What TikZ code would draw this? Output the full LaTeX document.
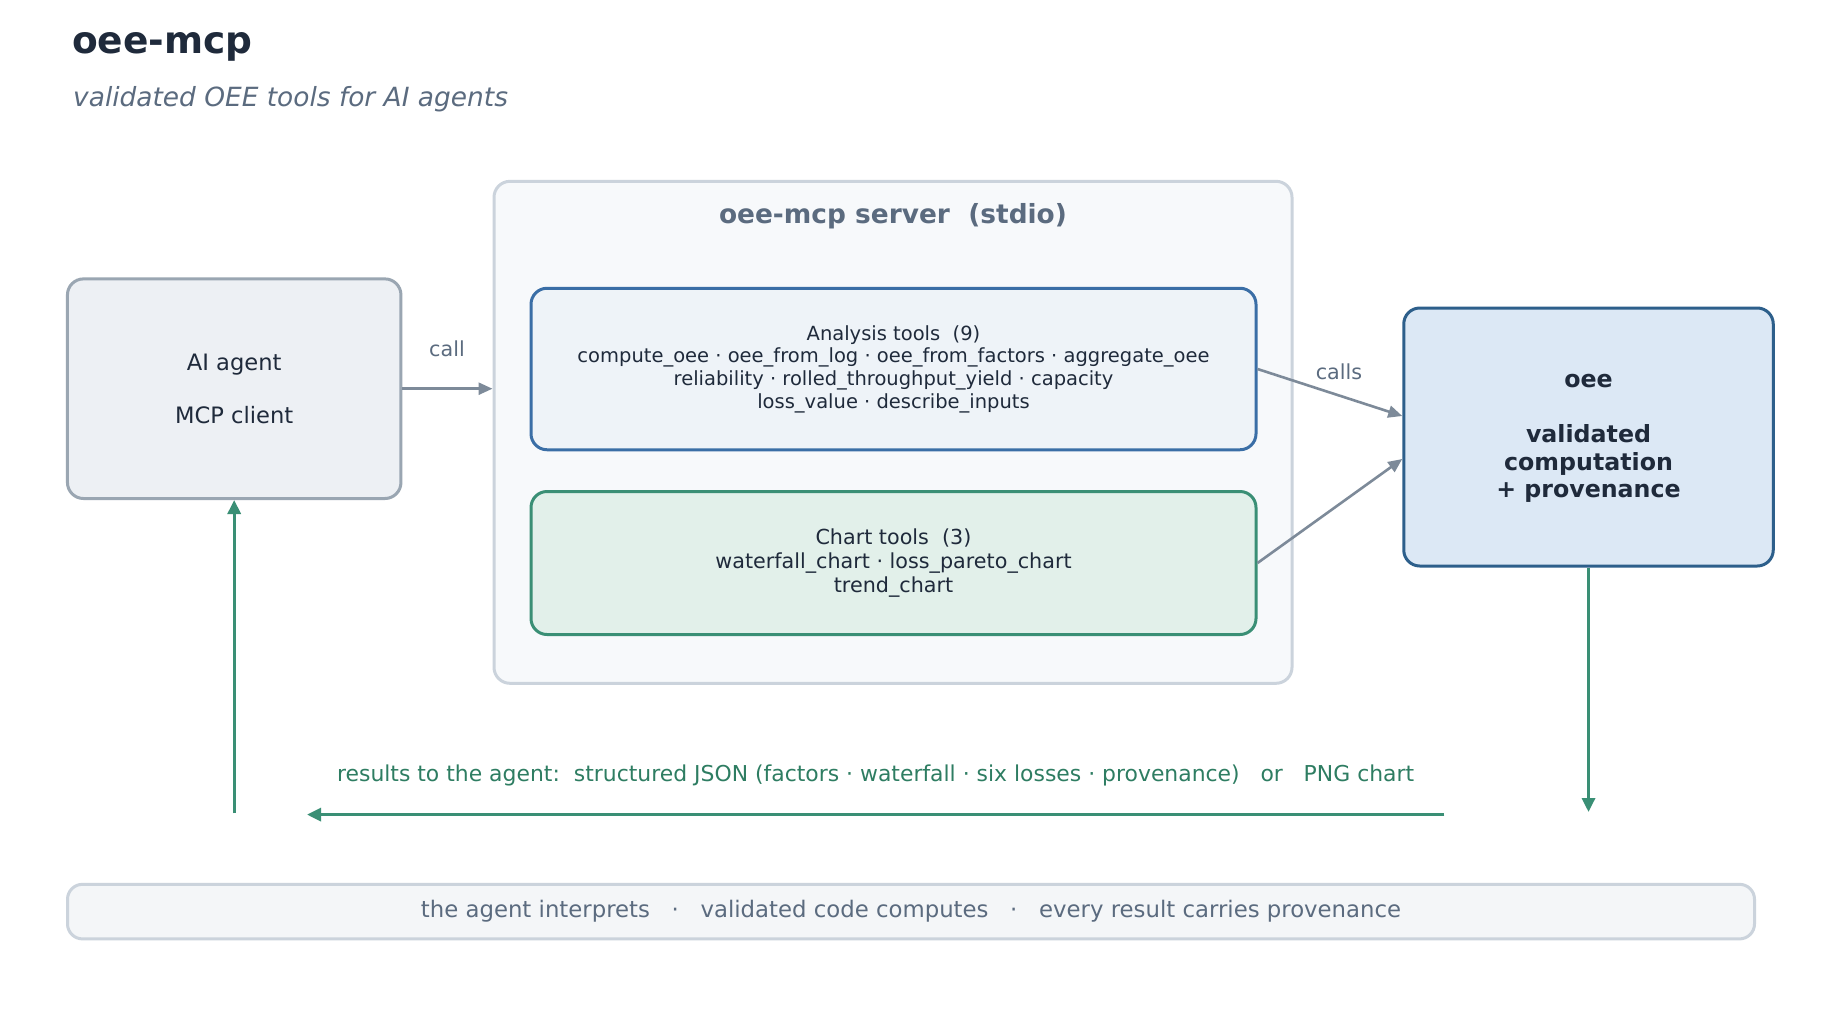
\documentclass[tikz,border=0pt]{standalone}
\usepackage{fontspec}
\setmainfont{DejaVu Sans}
\usetikzlibrary{arrows.meta,calc}
\definecolor{titleC}{HTML}{1F2A3B}
\definecolor{subC}{HTML}{5B6B7F}
\definecolor{agentF}{HTML}{EDF0F4}
\definecolor{agentD}{HTML}{9AA6B2}
\definecolor{srvF}{HTML}{F7F9FB}
\definecolor{srvD}{HTML}{CBD3DC}
\definecolor{anaF}{HTML}{EEF3F8}
\definecolor{anaD}{HTML}{3A6EA6}
\definecolor{chF}{HTML}{E2F0EA}
\definecolor{chD}{HTML}{3A8F75}
\definecolor{oeeF}{HTML}{DCE8F5}
\definecolor{oeeD}{HTML}{2D5F8B}
\definecolor{grayA}{HTML}{7D8A99}
\definecolor{greenA}{HTML}{3A8F75}
\definecolor{greenT}{HTML}{2E7D62}
\definecolor{botF}{HTML}{F4F6F8}
\newcommand{\fs}[2]{\fontsize{#1pt}{#2pt}\selectfont}
\tikzset{
  box/.style={rectangle, rounded corners=16pt, line width=3pt, align=center, inner sep=0pt, text=titleC},
  grayarrow/.style={draw=grayA, line width=2.6pt, -{Triangle[length=14pt,width=12pt]}},
  greenarrow/.style={draw=greenA, line width=3.2pt, -{Triangle[length=14pt,width=13pt]}},
  lbl/.style={inner sep=0pt, anchor=center}
}
\begin{document}
\begin{tikzpicture}[x=1pt,y=-1pt]
\useasboundingbox (0,0) rectangle (1822,1010);
\fill[white] (0,0) rectangle (1822,1010);

% titles
\node[lbl, anchor=west, text=titleC, font={\fs{37.5}{40}\bfseries}] (title) at (72,47) {oee-mcp};
\node[lbl, anchor=west, text=subC, font={\fs{26.4}{30}\itshape}] (subtitle) at (73,99) {validated OEE tools for AI agents};

% server container
\node[box, draw=srvD, fill=srvF, minimum width=798pt, minimum height=502pt] (server) at (893,432.3) {};
\node[lbl, text=subC, font={\fs{26.4}{30}\bfseries}] (srvtitle) at (893,216) {oee-mcp server\hspace{0.35em} (stdio)};

% inner boxes
\node[box, draw=anaD, fill=anaF, minimum width=725pt, minimum height=161.5pt, font={\fs{19.5}{22.7}}] (analysis) at (893.5,369)
  {Analysis tools\hspace{0.32em} (9)\\
   compute\_oee · oee\_from\_log · oee\_from\_factors · aggregate\_oee\\
   reliability · rolled\_throughput\_yield · capacity\\
   loss\_value · describe\_inputs};
\node[box, draw=chD, fill=chF, minimum width=725pt, minimum height=143pt, font={\fs{20.7}{24}}] (chart) at (893.5,563)
  {Chart tools\hspace{0.32em} (3)\\
   waterfall\_chart · loss\_pareto\_chart\\
   trend\_chart};

% agent
\node[box, draw=agentD, fill=agentF, minimum width=333.5pt, minimum height=219.6pt, font={\fs{22.6}{26.7}}] (agent) at (234.2,388.7)
  {AI agent\\ \\ MCP client};

% oee
\node[box, draw=oeeD, fill=oeeF, minimum width=369.5pt, minimum height=258pt, font={\fs{23.7}{27.6}\bfseries}] (oee) at (1588.5,437)
  {\raisebox{-4.5pt}{\begin{tabular}{@{}c@{}}oee\\ \\ validated\\ computation\\ + provenance\end{tabular}}};

% bottom bar
\node[box, draw=srvD, fill=botF, rounded corners=15pt, minimum width=1687pt, minimum height=54.6pt, text=subC, font={\fs{22.8}{26}}] (bottom) at (911,911.6)
  {the agent interprets\hspace{0.95em}·\hspace{0.95em}validated code computes\hspace{0.95em}·\hspace{0.95em}every result carries provenance};

% connectors
\draw[grayarrow] (agent.east) -- (agent.east -| server.west);
\node[lbl, text=subC, font={\fs{20.7}{24}}] (calllbl) at (447,349) {call};

\draw[grayarrow] (analysis.east) -- ([yshift=21pt]oee.west);
\draw[grayarrow] (chart.east) -- ([yshift=-22pt]oee.west);
\node[lbl, text=subC, font={\fs{20.7}{24}}] (callslbl) at (1339,372) {calls};

\coordinate (dn) at (1588.5,812);
\coordinate (rs) at (1444.4,814.6);
\coordinate (re) at (307,814.6);
\coordinate (up0) at (234.2,813.4);
\draw[greenarrow] (oee.south) -- (dn);
\draw[greenarrow] (rs) -- (re);
\draw[greenarrow] (up0) -- (agent.south);
\node[lbl, text=greenT, font={\fs{21.9}{26}}] (results) at (875.6,775)
  {results to the agent:\hspace{0.64em}structured JSON (factors · waterfall · six losses · provenance)\hspace{0.95em}or\hspace{0.95em}PNG chart};
\end{tikzpicture}
\end{document}
